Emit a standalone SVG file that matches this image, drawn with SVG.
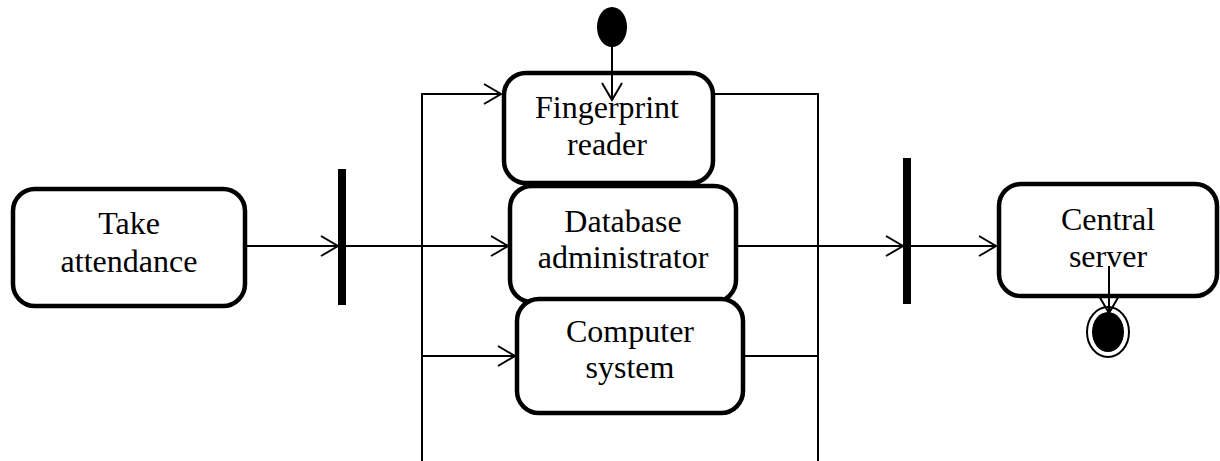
<svg xmlns="http://www.w3.org/2000/svg" width="1220" height="461" viewBox="0 0 1220 461">
  <style>
    .box { fill: #fff; stroke: #000; stroke-width: 4.5; }
    .lbl { font-family: "Liberation Serif", "Times New Roman", serif; font-size: 32px; fill: #000; text-anchor: middle; }
    .wire { fill: none; stroke: #000; stroke-width: 2; }
    .bar { fill: #000; }
  </style>
  <defs>
    <marker id="open" markerUnits="userSpaceOnUse" markerWidth="22" markerHeight="24" refX="18" refY="11" orient="auto">
      <path d="M1,1 L18,11 L1,21" fill="none" stroke="#000" stroke-width="2"/>
    </marker>
  </defs>

  <!-- fork / join bars -->
  <g id="fork"><rect class="bar" x="338" y="169" width="8" height="136"/></g>
  <g id="join"><rect class="bar" x="903" y="158" width="8" height="146"/></g>

  <!-- start node -->
  <g id="start"><ellipse cx="612" cy="27" rx="15" ry="20" fill="#000"/></g>

  <!-- activities -->
  <g id="take-attendance">
    <rect class="box" x="13" y="189" width="232" height="117" rx="22"/>
    <text class="lbl" x="129" y="234">Take</text>
    <text class="lbl" x="129" y="272">attendance</text>
  </g>

  <g id="fingerprint-reader">
    <rect class="box" x="504" y="73" width="209" height="110" rx="22"/>
    <text class="lbl" x="607" y="118">Fingerprint</text>
    <text class="lbl" x="607" y="155">reader</text>
  </g>

  <g id="database-administrator">
    <rect class="box" x="510" y="186" width="226" height="116" rx="22"/>
    <text class="lbl" x="623" y="232">Database</text>
    <text class="lbl" x="623" y="268">administrator</text>
  </g>

  <g id="computer-system">
    <rect class="box" x="517" y="299" width="226" height="114" rx="22"/>
    <text class="lbl" x="630" y="342">Computer</text>
    <text class="lbl" x="630" y="378">system</text>
  </g>

  <g id="central-server">
    <rect class="box" x="999" y="184" width="218" height="112" rx="22"/>
    <text class="lbl" x="1108" y="230">Central</text>
    <text class="lbl" x="1108" y="267">server</text>
  </g>

  <!-- end node -->
  <g id="end">
    <ellipse cx="1108" cy="332" rx="21" ry="25" fill="#fff" stroke="#000" stroke-width="2"/>
    <ellipse cx="1108" cy="332" rx="16" ry="20" fill="#000"/>
  </g>

  <!-- connectors, drawn last so they run over the boxes -->
  <g id="connectors">
    <line class="wire" x1="245" y1="246" x2="338" y2="246" marker-end="url(#open)"/>
    <line class="wire" x1="346" y1="246" x2="508" y2="246" marker-end="url(#open)"/>
    <polyline class="wire" points="422,461 422,94 501,94" marker-end="url(#open)"/>
    <line class="wire" x1="422" y1="356" x2="515" y2="356" marker-end="url(#open)"/>
    <polyline class="wire" points="715,94 818,94 818,461"/>
    <line class="wire" x1="745" y1="356" x2="818" y2="356"/>
    <line class="wire" x1="738" y1="246" x2="903" y2="246" marker-end="url(#open)"/>
    <line class="wire" x1="911" y1="246" x2="996" y2="246" marker-end="url(#open)"/>
    <line class="wire" x1="612" y1="46" x2="612" y2="100" marker-end="url(#open)"/>
    <line class="wire" x1="1109" y1="266" x2="1109" y2="313" marker-end="url(#open)"/>
  </g>
</svg>
